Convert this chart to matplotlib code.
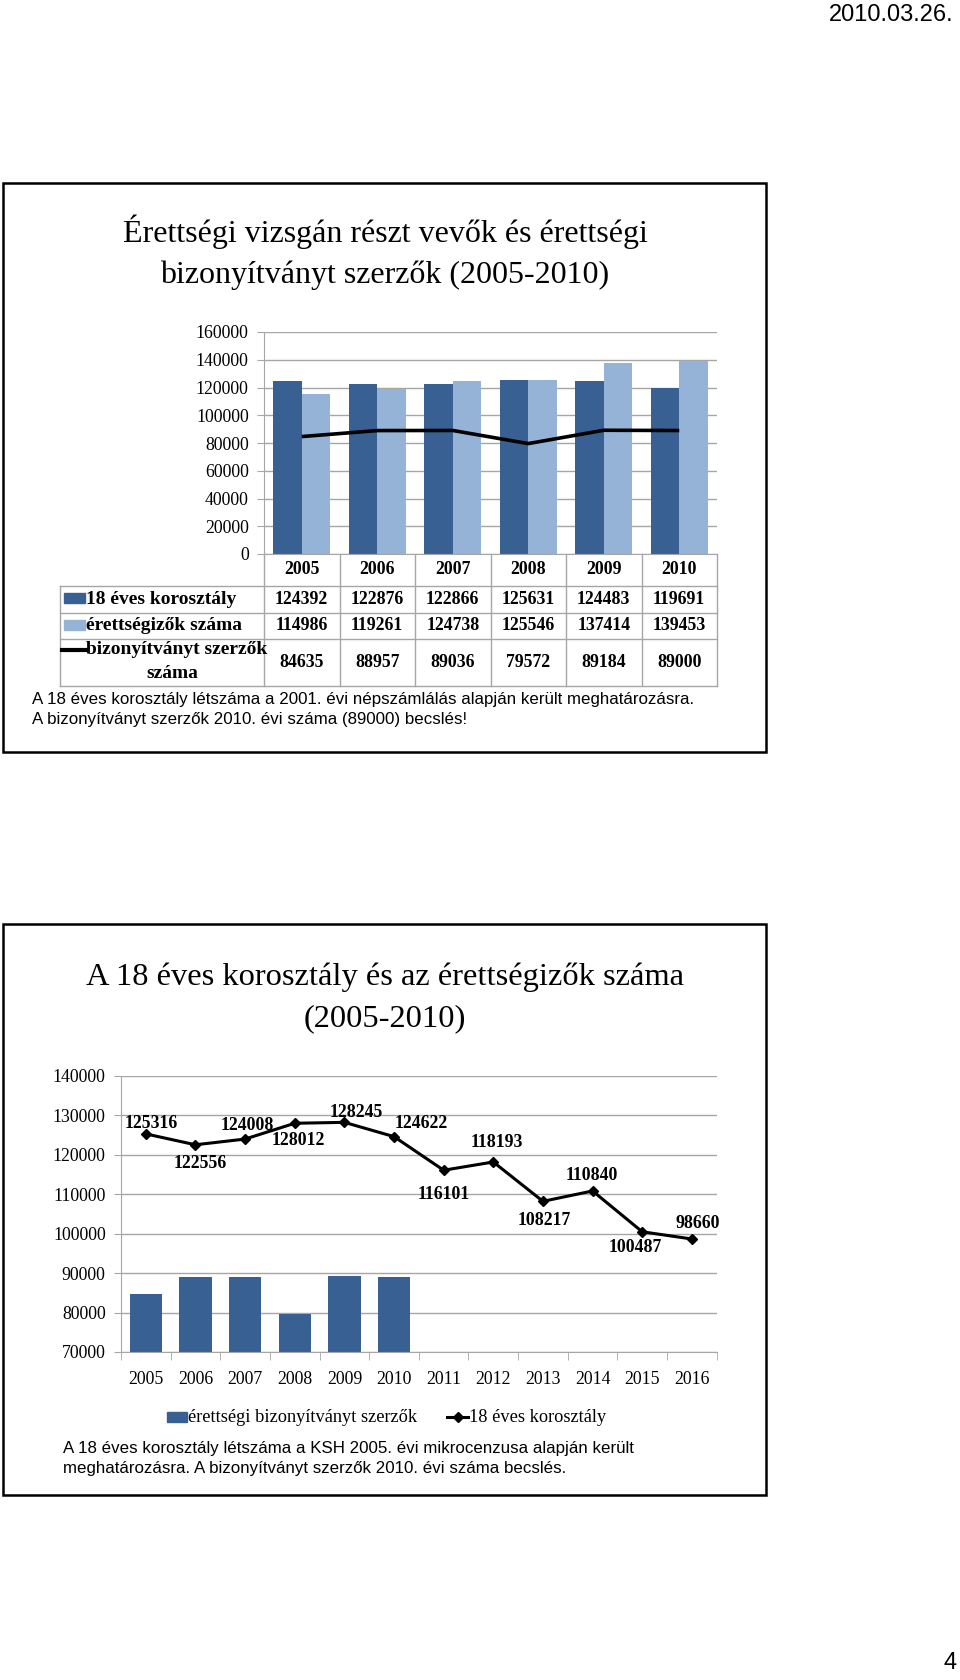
import matplotlib
matplotlib.use("Agg")
import matplotlib.pyplot as plt
from matplotlib.patches import Rectangle
import numpy as np

# slide 1: table chart 2005-2010
years = ["2005", "2006", "2007", "2008", "2009", "2010"]
cohort_18 = [124392, 122876, 122866, 125631, 124483, 119691]
candidates = [114986, 119261, 124738, 125546, 137414, 139453]
certified = [84635, 88957, 89036, 79572, 89184, 89000]

# slide 2: cohort forecast 2005-2016
forecast_years = ["2005", "2006", "2007", "2008", "2009", "2010",
                  "2011", "2012", "2013", "2014", "2015", "2016"]
cohort_forecast = [125316, 122556, 124008, 128012, 128245, 124622,
                   116101, 118193, 108217, 110840, 100487, 98660]

# label offsets (pixels, right / down) for the forecast line labels
label_dx = [5, 5, 2, 4, 12, 27, 0, 3, 1, -1, -7, 6]
label_dy = [-10, 19, -14, 17, -10, -13, 24, -19, 19, -15, 16, -15]

DARK = "#386093"
LIGHT = "#95B3D7"
GRID = "#A6A6A6"
SERIF = "Liberation Serif"
SANS = "Liberation Sans"
W, H = 960, 1680


def rect(left, top, right, bottom):
    return [left / W, 1 - bottom / H, (right - left) / W, (bottom - top) / H]


def style_axis(ax):
    for side in ("top", "right"):
        ax.spines[side].set_visible(False)
    ax.spines["left"].set_color(GRID)
    ax.spines["bottom"].set_color(GRID)
    ax.yaxis.grid(True, color=GRID, linewidth=1)
    ax.set_axisbelow(True)
    ax.tick_params(axis="y", length=5, color=GRID, labelsize=12.8, pad=6)
    for label in ax.get_yticklabels():
        label.set_fontfamily(SERIF)


fig = plt.figure(figsize=(9.6, 16.8), dpi=100)
page = fig.add_axes([0, 0, 1, 1])
page.set_xlim(0, W)
page.set_ylim(H, 0)
page.axis("off")

page.text(954, 4, "2010.03.26.", ha="right", va="top", family=SANS, fontsize=17)
page.text(957, 1663, "4", ha="right", va="center", family=SANS, fontsize=17)

# slide frames
for top, bottom in ((183, 752), (924, 1495)):
    page.add_patch(Rectangle((3, top), 763, bottom - top, fill=False,
                             edgecolor="black", linewidth=1.8))

# ---------- slide 1 ----------
page.text(385, 232, "Érettségi vizsgán részt vevők és érettségi", ha="center",
          va="center", family=SERIF, fontsize=23)
page.text(385, 275, "bizonyítványt szerzők (2005-2010)", ha="center",
          va="center", family=SERIF, fontsize=23)

p_left, p_right, p_top, p_bottom = 264, 717, 332, 554
ax1 = fig.add_axes(rect(p_left, p_top, p_right, p_bottom))
x = np.arange(len(years))
ax1.bar(x - 0.189, cohort_18, width=0.378, color=DARK)
ax1.bar(x + 0.189, candidates, width=0.378, color=LIGHT)
ax1.plot(x, certified, color="black", linewidth=2.6, solid_capstyle="butt")
ax1.set_xlim(-0.5, len(years) - 0.5)
ax1.set_ylim(0, 160000)
ax1.set_yticks(np.arange(0, 160001, 20000))
ax1.set_xticks([])
style_axis(ax1)

# data table under the chart
col_w = (p_right - p_left) / len(years)
rows_y = [554, 586, 612.5, 639, 686]
t_left = 60
for y in rows_y[1:]:
    page.plot([t_left, p_right], [y, y], color=GRID, linewidth=1)
page.plot([t_left, t_left], [rows_y[1], rows_y[-1]], color=GRID, linewidth=1)
for k in range(len(years) + 1):
    xc = p_left + k * col_w
    page.plot([xc, xc], [rows_y[0], rows_y[-1]], color=GRID, linewidth=1)

bold = dict(ha="center", va="center", family=SERIF, fontsize=12.8, fontweight="bold")
for i, year in enumerate(years):
    xc = p_left + (i + 0.5) * col_w
    page.text(xc, 570, year, **bold)
    page.text(xc, 599, str(cohort_18[i]), **bold)
    page.text(xc, 625.5, str(candidates[i]), **bold)
    page.text(xc, 662.5, str(certified[i]), **bold)

page.add_patch(Rectangle((64, 593), 21, 10, color=DARK))
page.add_patch(Rectangle((64, 619.5), 21, 10, color=LIGHT))
page.plot([62, 86], [650, 650], color="black", linewidth=3)
head = dict(bold, fontsize=14)
page.text(86, 599, "18 éves korosztály", **dict(head, ha="left"))
page.text(86, 625.5, "érettségizők száma", **dict(head, ha="left"))
page.text(86, 650, "bizonyítványt szerzők", **dict(head, ha="left"))
page.text(172, 673, "száma", **head)

note = dict(ha="left", va="center", family=SANS, fontsize=12.2)
page.text(32, 699.5, "A 18 éves korosztály létszáma a 2001. évi népszámlálás alapján "
          "került meghatározásra.", **note)
page.text(32, 719.5, "A bizonyítványt szerzők 2010. évi száma (89000) becslés!", **note)

# ---------- slide 2 ----------
page.text(385, 977.6, "A 18 éves korosztály és az érettségizők száma", ha="center",
          va="center", family=SERIF, fontsize=23.4)
page.text(385, 1018.5, "(2005-2010)", ha="center", va="center", family=SERIF,
          fontsize=23.4)

ax2 = fig.add_axes(rect(121, 1076, 716.7, 1352))
x2 = np.arange(len(forecast_years))
ax2.bar(np.arange(len(certified)), certified, width=0.65, color=DARK)
ax2.plot(x2, cohort_forecast, color="black", linewidth=2.2, marker="D",
         markersize=5, zorder=3)
for i, value in enumerate(cohort_forecast):
    ax2.annotate(str(value), (x2[i], value), xytext=(label_dx[i], -label_dy[i]),
                 textcoords="offset pixels", ha="center", va="center",
                 family=SERIF, fontsize=12.8, fontweight="bold")
ax2.set_xlim(-0.5, len(forecast_years) - 0.5)
ax2.set_ylim(70000, 140000)
ax2.set_yticks(np.arange(70000, 140001, 10000))
ax2.set_xticks(x2)
ax2.set_xticklabels(forecast_years, family=SERIF, fontsize=12.8)
ax2.set_xticks(np.arange(-0.5, len(forecast_years)), minor=True)
ax2.tick_params(axis="x", which="major", length=0, pad=14)
ax2.tick_params(axis="x", which="minor", length=6, color=GRID)
style_axis(ax2)

page.add_patch(Rectangle((167, 1412), 20, 10, color=DARK))
page.text(188, 1417, "érettségi bizonyítványt szerzők", ha="left", va="center",
          family=SERIF, fontsize=13.2)
page.plot([447, 468], [1417, 1417], color="black", linewidth=2.2)
page.plot([457.5], [1417], color="black", marker="D", markersize=5)
page.text(469, 1417, "18 éves korosztály", ha="left", va="center",
          family=SERIF, fontsize=13.2)

page.text(63, 1448, "A 18 éves korosztály létszáma a KSH 2005. évi mikrocenzusa "
          "alapján került", **note)
page.text(63, 1468, "meghatározásra. A bizonyítványt szerzők 2010. évi száma becslés.",
          **note)

fig.savefig("out.png", dpi=100)
